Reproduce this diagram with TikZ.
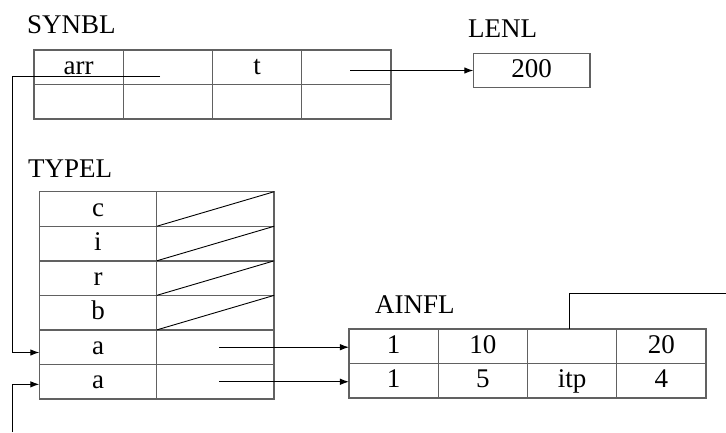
\documentclass[tikz,border=0pt]{standalone}
\usepackage{fontspec}
\setmainfont{Liberation Serif}
\usetikzlibrary{positioning,arrows.meta}
\definecolor{tabgray}{gray}{0.38}
\tikzset{
  cell/.style={draw=tabgray, line width=1.4pt, rectangle, inner sep=0pt, outer sep=0pt,
    minimum width=89.25pt, minimum height=34.5pt, text height=18pt, text depth=4pt},
  wcell/.style={cell, minimum width=117.4pt, minimum height=34.55pt},
  tlabel/.style={anchor=base west, inner sep=0pt},
  link/.style={line width=1pt, black}
}
\begin{document}
\begin{tikzpicture}[x=1pt,y=-1pt,>={Latex[length=9pt,width=6.5pt]},font=\fontsize{27}{30}\selectfont]
    \useasboundingbox (0,0) rectangle (726,432);
    % SYNBL
    \node (synbl) [tlabel] at (27,33) {SYNBL};
    \node (s11) [cell] at (78.6,67.25) {arr};
    \node (s12) [cell, right=0pt of s11] {};
    \node (s13) [cell, right=0pt of s12] {t};
    \node (s14) [cell, right=0pt of s13] {};
    \node (s21) [cell, below=0pt of s11] {};
    \node (s22) [cell, below=0pt of s12] {};
    \node (s23) [cell, below=0pt of s13] {};
    \node (s24) [cell, below=0pt of s14] {};
    % LENL
    \node (lenltxt) [tlabel] at (468,37) {LENL};
    \node (lenl) [cell, minimum width=116.7pt, minimum height=34.4pt] at (531.7,70.5) {200};
    % TYPEL
    \node (typel) [tlabel] at (28,177) {TYPEL};
    \node (t11) [wcell] at (98,209) {c};
    \node (t12) [wcell, right=0pt of t11] {};
    \node (t21) [wcell, below=0pt of t11] {i};
    \node (t22) [wcell, right=0pt of t21] {};
    \node (t31) [wcell, below=0pt of t21] {r};
    \node (t32) [wcell, right=0pt of t31] {};
    \node (t41) [wcell, below=0pt of t31] {b};
    \node (t42) [wcell, right=0pt of t41] {};
    \node (t51) [wcell, below=0pt of t41] {a};
    \node (t52) [wcell, right=0pt of t51] {};
    \node (t61) [wcell, below=0pt of t51] {a};
    \node (t62) [wcell, right=0pt of t61] {};
    % AINFL
    \node (ainfl) [tlabel] at (375,313) {AINFL};
    \node (a11) [cell] at (393.6,346.25) {1};
    \node (a12) [cell, right=0pt of a11] {10};
    \node (a13) [cell, right=0pt of a12] {};
    \node (a14) [cell, right=0pt of a13] {20};
    \node (a21) [cell, below=0pt of a11] {1};
    \node (a22) [cell, below=0pt of a12] {5};
    \node (a23) [cell, below=0pt of a13] {itp};
    \node (a24) [cell, below=0pt of a14] {4};

    \coordinate (arrptr) at (160,76);
    \coordinate (tptr) at (350,70.5);
    \coordinate (loopin) at (12,432);
    \coordinate (itpout) at (726,293.3);

    \draw[link, line width=0.9pt] (t12.south west) -- (t12.north east);
    \draw[link, line width=0.9pt] (t22.south west) -- (t22.north east);
    \draw[link, line width=0.9pt] (t32.south west) -- (t32.north east);
    \draw[link, line width=0.9pt] (t42.south west) -- (t42.north east);

    \draw[link,->] (arrptr) -| ([xshift=-27.3pt,yshift=-5.3pt]t51.west) -- ([yshift=-5.3pt]t51.west);
    \draw[link,->] (loopin) |- ([yshift=-2.6pt]t61.west);
    \draw[link,->] (tptr) -- (lenl.west);
    \draw[link,->] ([xshift=4pt]t52.center) -- (a11.west |- t52.center);
    \draw[link,->] ([xshift=4pt]t62.center) -- (a21.west |- t62.center);
    \draw[link] ([xshift=-2.5pt]a13.north) |- (itpout);
\end{tikzpicture}
\end{document}
